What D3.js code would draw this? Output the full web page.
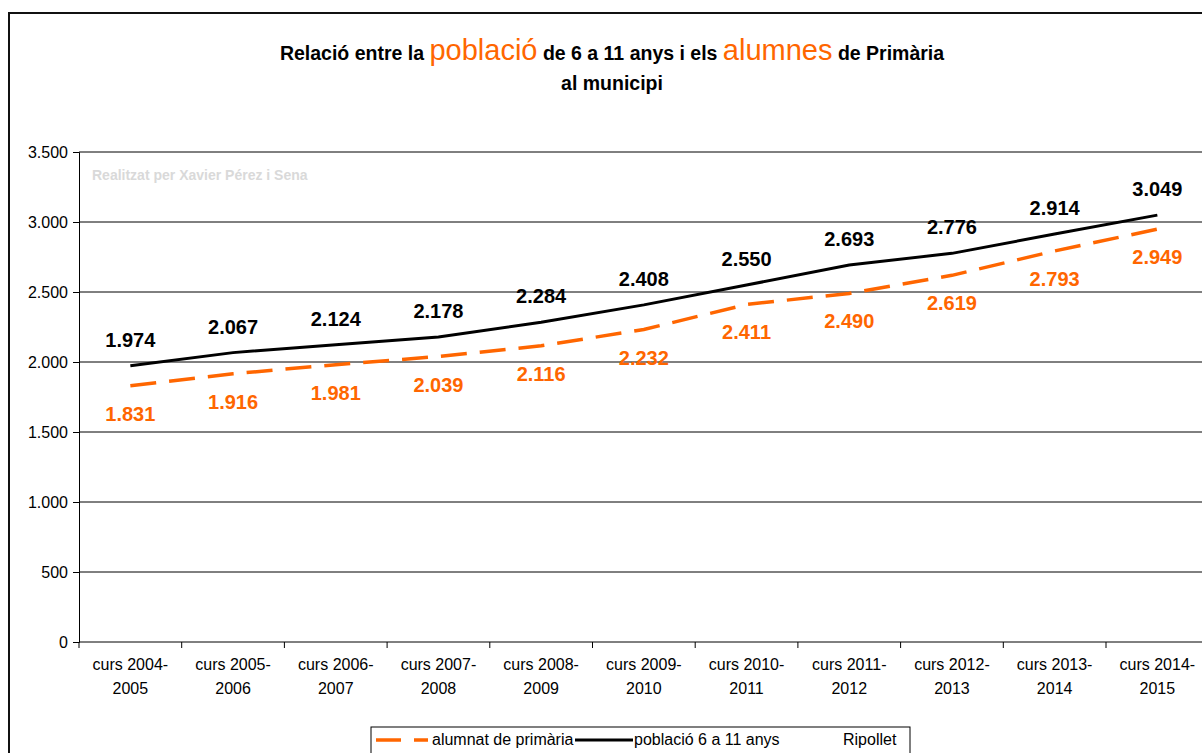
<!DOCTYPE html>
<html>
<head>
<meta charset="utf-8">
<script src="https://cdn.jsdelivr.net/npm/d3@7"></script>
<style>
body { margin: 0; background: #fff; }
svg { font-family: Arial, "Liberation Sans", sans-serif; }
</style>
</head>
<body>
<script>
var cursos = ["2004-2005","2005-2006","2006-2007","2007-2008","2008-2009","2009-2010","2010-2011","2011-2012","2012-2013","2013-2014","2014-2015"];
var poblacio = [1974, 2067, 2124, 2178, 2284, 2408, 2550, 2693, 2776, 2914, 3049];
var alumnat = [1831, 1916, 1981, 2039, 2116, 2232, 2411, 2490, 2619, 2793, 2949];
var yTicks = [0, 500, 1000, 1500, 2000, 2500, 3000, 3500];

var orange = "#ff6600";
var fmt = d3.formatLocale({decimal: ",", thousands: ".", grouping: [3], currency: ["", "€"]}).format(",");

var svg = d3.select("body").append("svg")
    .attr("width", 1202)
    .attr("height", 753);

// outer frame
svg.append("rect")
    .attr("x", 9).attr("y", 13)
    .attr("width", 1220).attr("height", 780)
    .attr("fill", "none").attr("stroke", "#111").attr("stroke-width", 2);

var x = d3.scaleBand().domain(cursos).range([79, 79 + 11 * 102.7]);
var y = d3.scaleLinear().domain([0, 3500]).range([642, 152]);

// grid
svg.selectAll("line.grid")
    .data(yTicks.slice(1))
    .enter()
    .append("line")
    .attr("x1", 79).attr("x2", 1210)
    .attr("y1", function(d){ return y(d); })
    .attr("y2", function(d){ return y(d); })
    .attr("stroke", "#000").attr("stroke-width", 1);

// watermark
svg.append("text")
    .attr("x", 92).attr("y", 180)
    .attr("fill", "#d9d9d9")
    .attr("font-weight", "bold")
    .attr("font-size", 14)
    .text("Realitzat per Xavier Pérez i Sena");

// y axis
var yAxis = svg.append("g")
    .attr("transform", "translate(79,0)")
    .call(d3.axisLeft(y).tickValues(yTicks).tickFormat(fmt).tickSize(6));
yAxis.select(".domain").attr("stroke", "#000");
yAxis.selectAll("text").attr("font-size", 16).attr("font-family", "Arial, 'Liberation Sans', sans-serif").attr("fill", "#000").attr("dx", -2);

// x axis
var xAxis = svg.append("g")
    .attr("transform", "translate(0,642)");
xAxis.append("line")
    .attr("x1", 79).attr("x2", 1210).attr("y1", 0).attr("y2", 0)
    .attr("stroke", "#000");
xAxis.selectAll("line.tick")
    .data(cursos)
    .enter()
    .append("line")
    .attr("x1", function(d){ return x(d); })
    .attr("x2", function(d){ return x(d); })
    .attr("y1", 0).attr("y2", 6)
    .attr("stroke", "#000");
var xl = xAxis.selectAll("text")
    .data(cursos)
    .enter()
    .append("text")
    .attr("text-anchor", "middle")
    .attr("font-size", 16)
    .attr("x", function(d){ return x(d) + x.bandwidth() / 2; });
xl.append("tspan")
    .attr("x", function(d){ return x(d) + x.bandwidth() / 2; })
    .attr("y", 28)
    .text(function(d){ return "curs " + d.split("-")[0] + "-"; });
xl.append("tspan")
    .attr("x", function(d){ return x(d) + x.bandwidth() / 2; })
    .attr("y", 52)
    .text(function(d){ return d.split("-")[1]; });

var line = d3.line()
    .x(function(d, i){ return x(cursos[i]) + x.bandwidth() / 2; })
    .y(function(d){ return y(d); });

svg.append("path")
    .datum(alumnat)
    .attr("d", line)
    .attr("fill", "none")
    .attr("stroke", orange)
    .attr("stroke-width", 3.5)
    .attr("stroke-dasharray", "26,13");

svg.append("path")
    .datum(poblacio)
    .attr("d", line)
    .attr("fill", "none")
    .attr("stroke", "#000")
    .attr("stroke-width", 3);

// value labels
svg.selectAll("text.pob")
    .data(poblacio)
    .enter()
    .append("text")
    .attr("class", "pob")
    .attr("text-anchor", "middle")
    .attr("font-size", 20)
    .attr("font-weight", "bold")
    .attr("x", function(d, i){ return x(cursos[i]) + x.bandwidth() / 2; })
    .attr("y", function(d){ return y(d) - 19; })
    .text(function(d){ return fmt(d); });

svg.selectAll("text.alu")
    .data(alumnat)
    .enter()
    .append("text")
    .attr("class", "alu")
    .attr("text-anchor", "middle")
    .attr("font-size", 20)
    .attr("font-weight", "bold")
    .attr("fill", orange)
    .attr("x", function(d, i){ return x(cursos[i]) + x.bandwidth() / 2; })
    .attr("y", function(d){ return y(d) + 35; })
    .text(function(d){ return fmt(d); });

// title
var t1 = svg.append("text")
    .attr("x", 612).attr("y", 60)
    .attr("text-anchor", "middle")
    .attr("font-size", 19.5)
    .attr("font-weight", "bold");
t1.append("tspan").text("Relació entre la ");
t1.append("tspan").attr("fill", orange).attr("font-size", 29).attr("font-weight", "normal").text("població");
t1.append("tspan").text(" de 6 a 11 anys i els ");
t1.append("tspan").attr("fill", orange).attr("font-size", 29).attr("font-weight", "normal").text("alumnes");
t1.append("tspan").text(" de Primària");
svg.append("text")
    .attr("x", 612).attr("y", 90)
    .attr("text-anchor", "middle")
    .attr("font-size", 19.5)
    .attr("font-weight", "bold")
    .text("al municipi");

// legend
var lg = svg.append("g").attr("transform", "translate(371,727)");
lg.append("rect")
    .attr("width", 539).attr("height", 40)
    .attr("fill", "#fff").attr("stroke", "#000");
lg.append("line")
    .attr("x1", 5).attr("x2", 57).attr("y1", 13).attr("y2", 13)
    .attr("stroke", orange).attr("stroke-width", 3.5)
    .attr("stroke-dasharray", "25,13");
lg.append("text").attr("x", 61).attr("y", 18).attr("font-size", 16).text("alumnat de primària");
lg.append("line")
    .attr("x1", 204).attr("x2", 262).attr("y1", 13).attr("y2", 13)
    .attr("stroke", "#000").attr("stroke-width", 3);
lg.append("text").attr("x", 263).attr("y", 18).attr("font-size", 16).text("població 6 a 11 anys");
lg.append("text").attr("x", 472).attr("y", 18).attr("font-size", 16).text("Ripollet");
</script>
</body>
</html>
